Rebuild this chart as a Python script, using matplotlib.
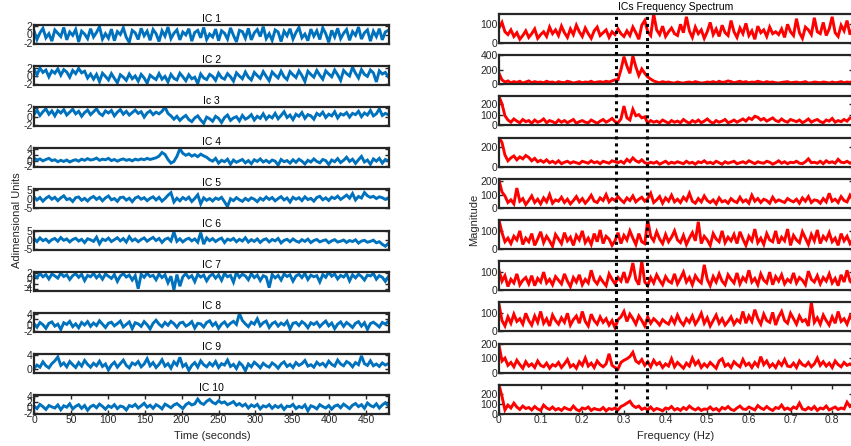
import numpy as np
import matplotlib
matplotlib.use("Agg")
import matplotlib.pyplot as plt

plt.rcParams['font.family'] = ['Liberation Sans', 'DejaVu Sans']
plt.rcParams['font.size'] = 7.5
plt.rcParams['axes.unicode_minus'] = False

# independent components (time domain), 0 - 480 s
ic_titles = ['IC 1', 'IC 2', 'Ic 3', 'IC 4', 'IC 5', 'IC 6', 'IC 7', 'IC 8', 'IC 9', 'IC 10']

ic1 = [0.9,-1.2,0.4,1.5,-0.8,0.2,-1.6,1.1,0.3,-0.5,1.7,-1.3,0.6,-0.2,1.2,-1.8,0.8,0.1,-1.0,1.4,
       -0.6,0.5,1.9,-1.1,0.2,-0.9,1.3,-1.5,0.7,0.0,1.6,-0.7,-1.9,1.0,0.4,-1.2,1.5,-0.3,0.8,-1.4,
       1.2,0.2,-1.7,0.9,-0.4,1.8,-1.0,0.3,1.1,-1.3,0.6,-0.1,1.4,-1.6,0.5,1.0,-0.8,1.7,-1.2,0.1,
       -0.6,1.3,-1.5,0.9,0.3,-1.1,1.6,-0.2,-1.8,1.0,0.7,-0.9,1.5,-1.3,0.4,1.2,-0.5,1.9,-1.0,0.2,
       -1.4,1.1,0.6,-1.7,0.8,-0.3,1.4,-1.1,0.5,1.7,-0.8,0.1,-1.5,1.3,-0.4,0.9,-1.2,1.6,0.2,-1.9,
       1.0,-0.6,1.5,-1.0,0.3,1.2,-1.4,0.7,-0.2,1.8,-1.1,0.4,1.1,-1.6,0.8,-0.5,1.4,-1.3,0.6,1.0]
ic2 = [1.6,0.2,1.9,0.8,1.4,-0.3,1.2,0.6,1.7,0.1,1.5,0.9,-0.4,1.3,0.5,1.8,0.7,1.1,-0.6,0.4,
       -0.9,0.3,-1.5,0.6,-0.2,-1.1,0.5,-0.7,-1.8,0.2,-0.4,-1.2,0.4,-0.8,-0.1,-1.4,0.3,-0.6,-1.9,0.1,
       -0.5,-1.0,0.5,-0.9,-0.2,-1.6,0.3,-0.7,-1.1,0.6,-0.3,-1.3,0.2,-0.8,-0.4,-2.0,0.4,-0.6,-1.0,0.3,
       -0.2,-1.2,0.6,-0.5,-0.9,0.5,-0.3,-1.4,0.7,-0.1,-0.8,0.9,-0.4,-1.1,0.8,0.0,-0.7,1.0,-0.2,-1.3,
       0.9,0.1,-0.6,1.1,-0.3,-1.0,1.0,0.2,-0.5,1.2,0.0,-1.5,1.1,0.3,-0.4,1.3,0.1,-0.9,1.2,0.4,
       -0.3,1.4,0.2,-1.2,1.3,0.5,-0.1,2.1,0.6,-0.6,1.5,0.3,-0.2,1.4,0.7,-1.6,1.2,0.4,0.8,-0.3]
ic3 = [0.5,1.6,0.3,1.2,1.9,0.6,1.4,0.2,1.5,0.9,1.7,0.4,1.1,1.8,0.7,1.3,0.1,1.0,1.6,0.5,
       1.2,1.9,0.8,0.3,1.4,0.9,1.5,0.2,1.1,1.7,0.6,1.3,0.4,1.0,1.6,0.8,1.2,-0.1,0.9,1.4,
       0.5,1.1,0.7,1.3,2.3,0.8,0.2,-0.6,0.1,-0.9,-0.2,0.3,-0.7,-1.2,-0.3,0.2,-0.8,-1.6,-0.1,-0.5,
       -1.1,0.1,-0.4,-1.4,-0.2,0.4,-0.9,-0.3,0.0,-1.0,0.3,-0.6,-0.2,0.5,-0.8,0.1,-0.4,0.7,-0.6,0.2,
       -0.3,0.8,-0.5,0.3,1.2,-0.2,0.4,-0.7,0.6,0.1,1.0,-0.4,0.5,0.2,-0.6,0.8,0.3,1.1,-0.2,0.6,
       0.2,1.2,-0.3,0.7,0.4,1.0,-0.1,0.8,0.5,1.3,0.0,0.9,0.4,1.5,0.2,0.7,1.9,0.3,0.8,0.5]
ic4 = [0.9,0.2,0.6,-0.1,0.4,0.8,0.0,0.3,-0.4,0.1,-0.3,0.2,-0.5,0.0,0.3,-0.2,0.5,0.1,0.7,0.2,
       0.4,0.9,0.1,0.5,0.3,0.8,0.0,0.4,-0.2,0.3,0.6,0.1,0.4,-0.1,0.5,0.2,0.6,0.3,0.8,0.4,
       0.7,1.0,1.6,2.9,2.2,0.4,-0.9,-0.3,1.5,4.2,2.6,1.9,2.4,1.6,2.1,1.4,2.3,1.7,1.2,0.3,
       -0.2,0.8,-0.9,0.1,-0.4,0.5,-1.3,0.2,-0.6,-0.1,0.4,-0.8,0.0,-1.1,0.3,-0.3,0.6,-0.5,0.1,-0.7,
       0.2,-0.2,-1.6,0.4,-0.4,0.0,-0.9,0.3,-0.6,0.5,-0.2,-1.2,0.1,-0.5,0.6,-0.3,-0.8,0.4,0.0,-1.4,
       0.2,-0.4,0.7,-0.7,0.1,1.2,-0.3,0.5,-1.0,0.3,1.5,-0.5,0.2,-1.3,0.6,-0.2,0.8,-0.9,0.4,-0.1]
ic5 = [1.2,-0.6,0.8,-1.3,0.4,1.5,-0.2,0.9,-1.0,0.6,1.8,-0.4,0.2,-1.5,0.7,1.1,-0.8,0.3,-1.2,0.5,
       1.4,-0.3,0.9,-1.1,0.6,1.7,-0.5,0.2,-1.4,0.8,1.0,-0.7,0.4,-1.6,0.5,1.3,-0.2,0.7,-1.0,0.3,
       1.2,-0.6,0.9,-1.3,0.2,2.1,3.6,-1.8,0.4,-1.1,0.8,-0.4,1.0,-1.5,0.3,2.4,-2.9,0.6,-0.8,0.2,
       -1.2,0.5,-0.3,0.9,-1.7,-4.4,0.1,-1.0,0.7,-0.5,-1.4,0.3,-0.9,0.6,-0.2,-1.6,0.4,-0.7,1.1,-0.3,
       0.8,-1.1,0.2,1.3,-0.6,0.5,-1.8,0.9,-0.2,0.7,-1.0,1.2,-0.4,0.3,-1.3,0.8,1.5,-0.5,0.6,-0.9,
       1.0,0.2,1.6,-0.3,0.9,2.2,0.4,3.1,-0.6,1.4,0.5,3.7,1.8,0.9,1.5,0.2,1.2,0.7,-0.3,0.6]
ic6 = [0.8,-0.9,1.2,-0.4,0.5,-1.3,0.2,0.9,-0.7,1.4,-0.2,0.6,-1.1,0.3,1.0,-0.6,0.4,-1.5,0.7,0.1,
       -0.8,1.6,-2.2,0.5,-0.3,1.1,-0.9,0.2,1.3,-0.5,0.8,-1.2,1.9,-0.4,0.6,-1.0,0.3,1.2,-0.7,0.5,
       1.5,-0.3,0.9,-1.4,0.4,1.1,-0.6,4.7,-0.8,0.7,-1.1,0.3,1.0,-0.5,0.6,-1.3,4.3,-2.4,1.2,-0.4,
       0.8,-0.9,0.3,1.1,-1.5,0.5,-0.2,0.9,-1.0,0.4,-0.6,1.3,-1.2,0.2,-0.8,0.6,-1.4,0.1,0.7,-1.1,
       0.3,-0.5,0.9,-1.7,-0.2,0.4,-1.0,0.6,-0.6,-1.3,0.2,-0.8,0.5,-1.5,-0.3,0.3,-1.1,-0.4,0.1,-1.6,
       -0.5,0.2,-1.2,-0.7,0.0,-1.4,-0.3,-0.9,0.1,-1.8,-0.6,-0.2,-1.3,-0.8,-0.1,-1.6,-1.0,-2.5,-3.6,-2.0]
ic7 = [1.2,0.3,1.8,0.6,1.4,-0.2,1.6,0.9,0.1,1.9,0.7,1.3,-0.4,1.0,1.7,0.4,1.5,-0.8,1.1,0.6,
       1.8,0.2,1.3,-0.3,1.6,0.8,0.0,1.4,-1.1,0.9,1.7,0.5,1.2,-0.6,1.0,-3.8,1.5,0.4,1.9,0.7,
       1.1,-0.5,1.6,0.3,1.3,-1.6,0.8,-4.2,1.4,-2.9,0.6,1.7,0.2,1.0,-1.2,1.5,0.5,1.2,-0.9,0.8,
       1.6,0.1,1.3,-0.7,1.8,0.6,1.1,-1.4,2.2,0.4,1.5,0.9,-0.5,1.7,0.3,1.2,-0.8,1.0,0.5,-3.4,
       1.4,0.2,1.1,-0.6,1.6,0.7,1.3,-1.0,0.9,1.5,0.3,1.8,-0.4,1.2,0.6,1.0,-1.3,1.4,0.4,2.3,
       0.8,1.6,-0.2,1.1,0.5,1.7,-0.9,1.3,0.2,1.5,0.7,-0.6,1.2,0.9,1.8,-0.3,1.0,0.4,-1.1,0.6]
ic8 = [0.5,-0.8,0.9,0.1,-1.2,0.6,1.1,-0.4,0.3,-1.6,0.8,0.2,1.3,-0.6,0.4,-1.0,0.9,0.0,1.2,-0.5,
       0.7,-0.2,1.5,0.3,-0.9,0.6,1.0,-0.3,0.5,1.4,-0.7,0.2,1.1,-1.3,0.8,0.4,-0.5,1.2,0.1,-1.4,
       0.6,1.7,0.3,-0.6,0.9,-0.1,1.3,0.5,-0.8,0.7,1.0,-0.4,0.2,1.2,-1.1,0.6,0.4,-0.7,0.9,1.5,
       -0.2,0.8,-1.2,0.3,1.1,-0.5,0.6,1.3,0.2,4.1,1.6,0.4,-0.6,1.0,0.3,2.2,-0.3,0.8,1.4,-0.9,
       0.5,1.1,-0.4,0.7,0.0,1.3,-1.5,0.6,0.9,-0.2,1.2,0.4,-1.0,0.8,0.2,1.0,-0.6,0.5,1.4,-0.3,
       0.7,-1.3,0.3,1.1,-0.5,0.9,0.1,-0.9,0.6,1.2,-0.4,0.8,-1.6,0.5,1.0,0.2,-0.7,0.9,0.3,1.3]
ic9 = [0.3,1.2,0.6,2.1,1.0,0.4,1.6,2.4,3.5,1.1,1.8,0.7,2.2,1.3,0.5,1.9,0.9,2.5,1.4,0.6,
       1.7,1.0,2.3,0.8,1.5,-0.2,1.2,2.0,0.6,1.6,2.6,1.1,0.4,1.8,1.3,2.2,0.7,1.5,3.0,1.0,
       1.9,0.5,1.4,2.7,0.9,1.6,0.3,2.1,1.2,3.4,0.8,1.5,-0.3,1.1,1.9,0.6,2.4,1.3,0.7,1.8,
       1.0,2.2,0.5,1.6,1.2,2.6,0.8,1.4,0.2,1.9,1.1,-0.4,1.5,0.7,2.0,1.3,0.4,1.7,1.0,0.6,
       1.8,1.2,0.3,1.5,2.1,0.8,1.4,0.5,1.9,1.1,1.6,2.5,0.9,1.3,0.6,2.0,1.2,1.7,0.8,2.3,
       1.4,0.9,2.6,1.5,1.0,2.2,1.7,0.7,1.9,1.3,3.8,1.6,1.1,2.4,1.0,1.5,0.8,1.8,1.2,1.6]
ic10 = [0.4,-0.5,1.0,0.2,-0.8,0.6,0.1,-0.3,0.8,-0.9,0.5,0.0,1.2,-0.6,0.3,0.9,-0.4,0.6,-1.1,0.2,
        0.7,-0.2,1.1,0.3,-0.7,0.5,-0.1,0.9,-0.5,0.4,0.1,-1.0,0.6,0.2,1.0,-0.3,0.5,1.4,0.0,0.7,
        -0.4,0.9,0.3,-0.6,1.1,0.5,-0.2,0.8,1.3,0.4,-0.5,0.9,1.6,0.8,1.2,2.9,1.5,1.0,2.1,2.8,
        1.7,1.2,2.3,1.5,1.9,0.9,1.4,2.0,0.7,1.3,0.4,1.1,-0.3,0.8,0.2,1.0,-0.6,0.5,0.1,0.9,
        -0.4,0.6,-0.1,0.7,-0.8,0.4,0.2,1.0,-0.5,0.3,-0.2,0.8,-1.3,0.5,0.1,-0.6,0.9,0.2,-0.3,0.6,
        -0.7,0.4,0.8,-0.2,1.1,0.3,-0.5,0.7,1.3,0.2,0.9,-0.4,1.5,0.6,0.1,1.2,-0.3,0.8,1.6,0.5]

ic_ylims = [(-2.3, 2.3), (-2.4, 2.4), (-2.3, 2.3), (-2.4, 4.4), (-5.5, 5.5),
            (-5.5, 5.5), (-4.5, 2.5), (-2.4, 4.4), (-1.0, 4.4), (-2.4, 4.4)]
ic_yticks = [[-2, 0, 2], [-2, 0, 2], [-2, 0, 2], [-2, 0, 2, 4], [-5, 0, 5],
             [-5, 0, 5], [-4, -2, 0, 2], [-2, 0, 2, 4], [0, 4], [-2, 0, 2, 4]]

# spectra, 0 - 0.85 Hz
sp1 = [80,110,60,45,70,35,55,20,40,65,30,50,75,25,45,60,35,85,50,70,
       40,90,55,30,75,45,95,60,35,80,50,25,65,85,40,55,70,30,60,45,
       75,50,35,65,40,85,55,20,95,120,60,40,155,70,45,90,35,60,80,50,
       40,100,55,140,65,30,85,50,70,25,60,110,45,75,35,95,55,40,120,60,
       30,80,50,105,40,65,20,90,55,70,35,85,50,60,45,75,30,100,60,40,
       130,55,25,85,70,45,135,60,50,110,40,75,140,55,35,95,65,120,45,80]
sp2 = [150,60,30,45,20,35,25,40,15,30,45,20,35,25,30,20,40,25,30,15,
       35,25,20,40,30,15,25,35,20,30,25,40,20,30,35,25,40,30,45,60,
       60,200,380,250,150,390,240,120,210,150,100,70,45,30,20,35,25,30,20,15,
       30,20,15,25,30,20,35,25,15,20,30,25,35,20,40,25,30,45,35,20,
       30,40,25,35,20,30,25,40,30,20,35,25,30,20,15,25,30,35,20,25,
       30,20,25,35,15,20,30,25,20,30,25,15,30,20,25,35,20,30,25,40]
sp3 = [270,200,90,50,30,60,40,25,55,35,45,20,50,30,40,60,25,45,35,20,
       50,30,45,25,40,55,20,35,45,30,25,50,35,20,40,55,30,45,65,35,
       25,60,180,70,50,150,90,100,70,80,20,45,30,40,25,50,35,20,45,30,
       40,25,55,35,20,45,30,50,25,40,60,35,20,45,30,40,55,25,35,50,
       30,45,60,40,70,55,85,75,50,65,40,55,70,45,35,60,40,30,55,45,
       35,50,25,40,60,30,45,55,35,25,50,40,65,30,45,35,55,40,70,60]
sp4 = [300,250,120,60,90,110,70,100,80,115,95,60,85,50,65,45,70,40,55,35,
       60,30,45,55,35,50,40,30,55,45,35,60,40,50,30,55,45,35,60,50,
       40,55,35,75,50,90,60,45,70,40,30,45,35,50,25,40,55,30,45,35,
       50,40,30,55,35,45,25,50,40,60,35,45,30,55,40,25,50,35,45,55,
       30,40,50,35,60,45,30,50,40,35,55,45,25,40,60,35,50,30,45,40,
       55,35,30,50,80,40,45,35,55,30,60,40,50,35,75,45,40,55,35,50]
sp5 = [210,120,90,40,60,30,150,50,70,25,55,90,40,65,30,75,45,100,35,60,
       50,80,40,65,30,55,85,45,70,35,60,95,50,40,75,55,100,45,70,55,
       85,60,40,75,55,90,45,65,80,50,70,110,40,60,85,35,75,50,95,45,
       65,40,80,55,110,50,35,70,45,90,55,40,60,30,75,45,55,35,70,50,
       40,80,45,60,35,95,50,70,40,65,55,35,80,45,60,50,40,70,55,45,
       65,35,75,50,85,40,60,55,35,70,45,110,50,65,40,85,55,45,95,60]
sp6 = [160,90,40,60,30,70,50,100,25,60,40,85,20,55,95,35,70,45,15,80,
       55,30,90,45,65,20,75,50,100,35,60,25,85,40,105,30,70,55,20,45,
       90,30,75,50,100,60,25,85,40,30,160,70,45,95,55,30,80,40,65,100,
       50,35,75,25,60,90,45,150,30,70,50,20,85,55,40,100,35,65,45,80,
       30,95,55,20,70,45,110,35,60,25,85,50,40,100,30,65,45,110,20,75,
       50,35,95,60,25,80,45,105,30,70,50,90,40,60,20,85,45,70,30,55]
sp7 = [110,50,80,20,60,40,90,30,55,70,35,80,25,65,45,100,40,60,30,75,
       55,35,90,50,20,70,45,85,30,60,40,110,55,35,70,45,25,90,60,35,
       70,50,100,40,80,150,60,30,160,45,25,70,40,85,55,30,75,50,40,90,
       35,65,100,45,70,30,80,55,40,140,60,25,75,45,90,50,30,85,60,40,
       95,35,70,50,110,45,65,30,90,55,40,100,30,75,50,85,35,60,45,95,
       40,70,55,30,105,60,45,80,35,70,50,90,40,65,25,85,45,110,50,35]
sp8 = [150,60,30,80,45,95,55,70,40,100,60,35,85,50,110,45,70,30,90,60,
       40,75,50,100,35,65,85,45,110,55,30,95,60,40,80,50,70,35,60,20,
       65,80,110,55,95,70,40,85,60,30,80,45,70,55,35,65,50,40,75,45,
       90,55,35,70,50,85,40,65,100,45,75,30,60,90,45,70,35,55,80,40,
       65,50,110,45,85,55,120,70,40,95,60,50,105,35,80,110,60,45,100,70,
       40,85,55,65,30,160,50,75,40,90,60,35,80,45,110,55,70,40,85,60]
sp9 = [190,80,100,50,70,40,85,55,30,75,45,60,35,80,50,40,65,30,55,45,
       70,35,60,90,40,55,30,75,50,100,45,65,35,80,55,40,60,130,50,35,
       25,70,85,95,110,140,80,65,90,50,75,40,85,55,70,35,60,45,95,40,
       70,50,30,65,45,100,55,80,35,60,40,70,50,30,80,95,45,60,35,75,
       55,40,90,50,65,35,70,45,110,55,80,40,60,35,75,50,90,45,40,65,
       35,80,55,45,70,40,60,100,50,75,45,65,35,80,55,40,70,50,60,45]
sp10 = [300,180,40,90,60,110,70,45,80,55,65,40,75,50,35,90,60,45,70,40,
        55,35,65,50,40,80,45,30,60,50,70,35,55,45,40,65,30,55,45,60,
        40,75,90,110,130,85,65,80,45,60,40,70,35,55,45,30,60,50,75,40,
        55,35,65,45,80,55,40,60,35,50,45,70,40,55,30,65,50,75,45,35,
        60,80,50,45,70,55,40,85,60,45,75,50,35,65,55,90,45,60,40,70,
        55,110,50,40,65,45,75,35,60,50,80,40,55,70,45,60,50,120,75,90]

sp_ylims = [(0, 155), (0, 400), (0, 270), (0, 300), (0, 220),
            (0, 160), (0, 160), (0, 160), (0, 200), (0, 300)]
sp_yticks = [[0, 100], [0, 200, 400], [0, 100, 200], [0, 200], [0, 100, 200],
             [0, 100], [0, 100], [0, 100], [0, 100, 200], [0, 100, 200]]

band = [0.28, 0.355]   # dotted band limits (Hz)

ics = [ic1, ic2, ic3, ic4, ic5, ic6, ic7, ic8, ic9, ic10]
sps = [sp1, sp2, sp3, sp4, sp5, sp6, sp7, sp8, sp9, sp10]

W, H = 851, 446
fig = plt.figure(figsize=(W / 100, H / 100), dpi=100)
dark = '#262626'


def style(ax):
    for s in ax.spines.values():
        s.set_linewidth(1.6)
        s.set_color(dark)
    ax.tick_params(direction='in', length=3, width=1, colors=dark,
                   labelsize=7.5, pad=1, right=True, top=True)


def px_axes(x0, x1, top, bottom):
    return fig.add_axes([x0 / W, 1 - bottom / H, (x1 - x0) / W, (bottom - top) / H])


# left column
for i in range(10):
    top = 25 + i * 41.1
    ax = px_axes(34, 389, top, top + 19)
    y = np.array(ics[i])
    t = np.linspace(0, 480, len(y))
    ax.plot(t, y, color='#0072BD', lw=2.1, solid_joinstyle='miter')
    ax.set_xlim(0, 481)
    ax.set_ylim(*ic_ylims[i])
    ax.set_yticks(ic_yticks[i])
    ax.set_title(ic_titles[i], fontsize=7.5, pad=2.5, color='black')
    style(ax)
    if i == 9:
        ax.set_xticks(np.arange(0, 451, 50))
    else:
        ax.set_xticks([])

# right column
for i in range(10):
    top = 14 + i * 41.2
    ax = px_axes(499, 853, top, top + 29)
    y = np.array(sps[i])
    f = np.linspace(0, 0.85, len(y))
    ax.plot(f, y, color='red', lw=2.1, solid_joinstyle='miter')
    ax.set_xlim(0, 0.85)
    ax.set_ylim(*sp_ylims[i])
    ax.set_yticks(sp_yticks[i])
    style(ax)
    if i == 9:
        ax.set_xticks(np.arange(0, 0.81, 0.1))
        ax.set_xticklabels(['0'] + ['%.1f' % v for v in np.arange(0.1, 0.81, 0.1)])
    else:
        ax.set_xticks([])

# dotted band across all spectra
ov = px_axes(499, 853, 14, 413)
ov.set_xlim(0, 0.85)
ov.set_ylim(0, 1)
ov.axis('off')
for b in band:
    ov.axvline(b, color='black', ls=(0, (1, 1.3)), lw=2.2)

fig.text(17 / W, 1 - 220 / H, 'Adimensional Units', rotation=90, ha='center', va='center',
         fontsize=8, color=dark)
fig.text(474 / W, 1 - 220 / H, 'Magnitude', rotation=90, ha='center', va='center',
         fontsize=8, color=dark)
fig.text(212 / W, 1 - 436 / H, 'Time (seconds)', ha='center', va='center', fontsize=8, color=dark)
fig.text(676 / W, 1 - 436 / H, 'Frequency (Hz)', ha='center', va='center', fontsize=8, color=dark)
fig.text(676 / W, 1 - 7 / H, 'ICs Frequency Spectrum', ha='center', va='center', fontsize=7.5,
         color='black')

fig.savefig('out.png', dpi=100)
